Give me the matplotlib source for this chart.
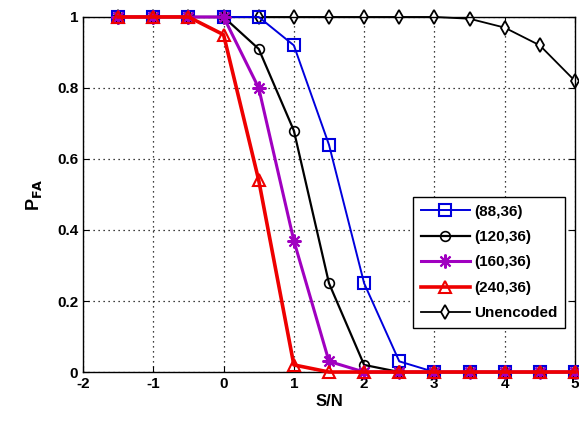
import matplotlib
matplotlib.use("Agg")
import matplotlib.pyplot as plt

snr = [-1.5, -1, -0.5, 0, 0.5, 1, 1.5, 2, 2.5, 3, 3.5, 4, 4.5, 5]
p_88 = [1, 1, 1, 1, 1, 0.92, 0.64, 0.25, 0.03, 0, 0, 0, 0, 0]
p_120 = [1, 1, 1, 1, 0.91, 0.68, 0.25, 0.02, 0, 0, 0, 0, 0, 0]
p_160 = [1, 1, 1, 1, 0.80, 0.37, 0.03, 0, 0, 0, 0, 0, 0, 0]
p_240 = [1, 1, 1, 0.95, 0.54, 0.02, 0, 0, 0, 0, 0, 0, 0, 0]
p_unc = [1, 1, 1, 1, 1, 1, 1, 1, 1, 1, 0.995, 0.97, 0.92, 0.82]

xticks = [-2, -1, 0, 1, 2, 3, 4, 5]
yticks = [0, 0.2, 0.4, 0.6, 0.8, 1]

plt.rcParams['font.family'] = ['Liberation Sans', 'DejaVu Sans']
plt.rcParams['font.weight'] = 'bold'

fig = plt.figure(figsize=(5.79, 4.24), dpi=100)
ax = fig.add_axes([0.1434, 0.1226, 0.8496, 0.8374])

ax.plot(snr, p_unc, color='black', lw=1.3, marker='d', ms=7, mfc='white', mec='black', mew=1.3, label='Unencoded', zorder=2, clip_on=False)
ax.plot(snr, p_88, color='#0000dd', lw=1.4, marker='s', ms=8, mfc='none', mec='#0000dd', mew=1.5, label='(88,36)', zorder=3, clip_on=False)
ax.plot(snr, p_120, color='black', lw=1.6, marker='o', ms=7, mfc='none', mec='black', mew=1.2, label='(120,36)', zorder=4, clip_on=False)
ax.plot(snr, p_160, color='#a000c0', lw=2.2, marker=(8, 2, 0), ms=10, mfc='#a000c0', mec='#a000c0', mew=1.5, label='(160,36)', zorder=5, clip_on=False)
ax.plot(snr, p_240, color='#ee0000', lw=2.6, marker='^', ms=8, mfc='none', mec='#ee0000', mew=1.5, label='(240,36)', zorder=6, clip_on=False)

ax.set_xlim(-2, 5)
ax.set_ylim(0, 1)
ax.set_xticks(xticks)
ax.set_yticks(yticks)
ax.set_xticklabels([str(v) for v in xticks])
ax.set_yticklabels(['0', '0.2', '0.4', '0.6', '0.8', '1'])
ax.tick_params(direction='in', labelsize=11, length=4, top=True, right=True)
for lab in ax.get_xticklabels() + ax.get_yticklabels():
    lab.set_fontweight('bold')
ax.grid(True, color='black', linestyle=(0, (1, 3)), linewidth=0.9)
for s in ax.spines.values():
    s.set_linewidth(1.0)

ax.set_xlabel('S/N', fontsize=12, fontweight='bold', labelpad=2)
ax.set_ylabel(r'P$_{\mathbf{FA}}$', fontsize=13, fontweight='bold', labelpad=9)

handles, labels = ax.get_legend_handles_labels()
order = [1, 2, 3, 4, 0]
leg = ax.legend([handles[i] for i in order], [labels[i] for i in order],
                loc='lower right', bbox_to_anchor=(0.98, 0.124),
                fancybox=False, edgecolor='black', framealpha=1,
                fontsize=11, handlelength=3.2, borderpad=0.5, labelspacing=0.75,
                handletextpad=0.3, borderaxespad=0)
leg.get_frame().set_linewidth(1.0)
for t in leg.get_texts():
    t.set_fontweight('bold')

fig.savefig('out.png', dpi=100)
